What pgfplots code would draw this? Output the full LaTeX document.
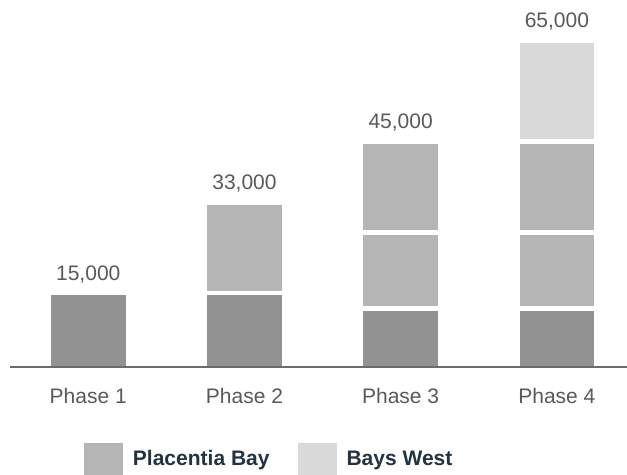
\documentclass[border=0pt]{standalone}
\usepackage{fontspec}
\setmainfont{Liberation Sans}
\usepackage{pgfplots}
\pgfplotsset{compat=1.18}
\definecolor{cDark}{HTML}{929292}
\definecolor{cMid}{HTML}{B5B5B5}
\definecolor{cLight}{HTML}{D9D9D9}
\definecolor{cText}{HTML}{595959}
\definecolor{cLeg}{HTML}{25333F}
\definecolor{cLine}{HTML}{6B6B6B}
\pgfplotsset{sqlegend/.style={legend image code/.code={\fill[##1,draw=none] (0pt,-9pt) rectangle (19.5pt,9pt);}}}
\begin{document}
\begin{tikzpicture}
\useasboundingbox (-5pt,-53pt) rectangle (308.5pt,184.5pt);
\begin{axis}[
  scale only axis, width=308.5pt, height=184.5pt,
  xmin=-0.501, xmax=3.449, ymin=0, ymax=73069,
  ybar stacked, bar width=39.5pt,
  axis on top, clip=false,
  axis line style={draw=none},
  xtick={0,1,2,3}, xticklabels={Phase 1,Phase 2,Phase 3,Phase 4},
  major tick length=0pt,
  xticklabel style={anchor=base, yshift=-17.5pt, text=cText, font=\fontsize{10.5}{12.6}\selectfont},
  ytick=\empty,
  extra y ticks={396}, extra y tick labels={},
  extra y tick style={grid=major, major grid style={draw=cLine, line width=1pt}},
  legend columns=-1,
  legend style={at={(0.1199,-0.2493)}, anchor=west, draw=none, fill=none,
    inner sep=0pt, outer sep=0pt,
    font=\bfseries\fontsize{10.5}{12.6}\selectfont, text=cLeg,
    nodes={inner sep=0pt, text height=0.75em, text depth=0.25em},
    /tikz/every odd column/.append style={column sep=5pt},
    /tikz/every even column/.append style={column sep=14pt},
    /tikz/column 3/.append style={column sep=8.5pt}},
]
\addplot[fill=cDark, draw=white, line width=2.25pt, forget plot]
  coordinates {(0,15000) (1,15000) (2,12000) (3,12000)};
\addplot[fill=cMid, draw=white, line width=2.25pt, sqlegend]
  coordinates {(0,0) (1,18000) (2,15000) (3,15000)};
\addlegendentry{Placentia Bay}
\addplot[fill=cMid, draw=white, line width=2.25pt, forget plot]
  coordinates {(0,0) (1,0) (2,18000) (3,18000)};
\addplot[fill=cLight, draw=white, line width=2.25pt, sqlegend]
  coordinates {(0,0) (1,0) (2,0) (3,20000)};
\addlegendentry{Bays West}
\end{axis}
\begin{axis}[
  scale only axis, width=308.5pt, height=184.5pt,
  xmin=-0.501, xmax=3.449, ymin=0, ymax=73069,
  hide axis, clip=false,
]
\addplot[draw=none, mark=none, nodes near coords, point meta=explicit symbolic,
  every node near coord/.append style={anchor=base, yshift=6.6pt, text=cText, inner sep=0pt,
    font=\fontsize{10.5}{12.6}\selectfont}]
  coordinates {(0,15000)[15,000] (1,33000)[33,000] (2,45000)[45,000] (3,65000)[65,000]};
\end{axis}
\end{tikzpicture}
\end{document}
